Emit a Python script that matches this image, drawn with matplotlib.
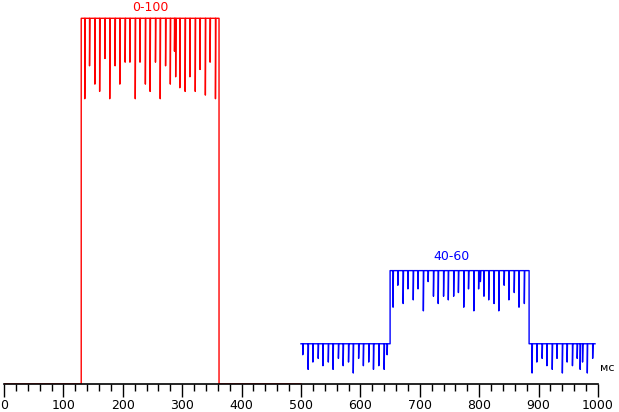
import numpy as np
import matplotlib.pyplot as plt

# red: 0-100 transition, values in % of full range
red_rise, red_fall, red_end = 130, 362, 500
red_level = 100
red_spike_t = [136, 144, 153, 161, 170, 178, 187, 195, 204, 212, 221, 229, 238, 246,
               255, 263, 272, 280, 287, 289, 296, 305, 313, 322, 330, 339, 347, 356]
red_spike_v = [78, 87, 82, 80, 89, 78, 87, 82, 88, 88, 78, 88, 82, 80,
               88, 78, 87, 82, 91, 84, 81, 80, 84, 80, 86, 79, 88, 78]

# blue: 40-60 transition
blue_start, blue_rise, blue_fall, blue_end = 500, 650, 884, 995
blue_low, blue_high = 11, 31
blue_low_t = [503, 512, 520, 529, 537, 546, 554, 563, 571, 580, 588, 597, 605, 614, 622, 631, 640, 645,
              889, 897, 906, 914, 923, 931, 940, 948, 957, 965, 970, 974, 982, 991]
blue_low_v = [8, 4, 6, 7, 5, 6, 4, 7, 5, 6, 3, 7, 5, 6, 4, 5, 4, 8,
              3, 6, 7, 5, 4, 7, 3, 6, 5, 7, 4, 6, 3, 7]
blue_high_t = [655, 663, 672, 680, 689, 697, 706, 714, 723, 731, 740, 748, 757, 765,
               774, 782, 791, 799, 802, 808, 816, 825, 833, 842, 850, 859, 867, 876]
blue_high_v = [21, 27, 22, 26, 23, 26, 20, 28, 24, 22, 24, 23, 24, 25,
               21, 26, 20, 26, 28, 24, 23, 22, 20, 27, 23, 25, 21, 22]


def with_spikes(segments, spike_t, spike_v):
    xs, ys = [], []
    for t0, t1, lvl in segments:
        xs += [t0]
        ys += [lvl]
        for t, v in zip(spike_t, spike_v):
            if t0 < t < t1:
                xs += [t, t, t + 0.6]
                ys += [lvl, v, lvl]
        xs += [t1]
        ys += [lvl]
    return xs, ys


rx, ry = with_spikes([(0, red_rise, 0), (red_rise, red_fall, red_level), (red_fall, red_end, 0)],
                     red_spike_t, red_spike_v)
bx, by = with_spikes([(blue_start, blue_rise, blue_low), (blue_rise, blue_fall, blue_high),
                      (blue_fall, blue_end, blue_low)],
                     blue_low_t + blue_high_t, blue_low_v + blue_high_v)

fig = plt.figure(figsize=(6.19, 4.12), dpi=100)
ax = fig.add_axes([4 / 619, 28 / 412, 594 / 619, 384 / 412])
ax.plot(rx, ry, color='red', lw=1)
ax.plot(bx, by, color='blue', lw=1)
ax.set_xlim(0, 1000)
ax.set_ylim(0, 105)
for s in ['top', 'left', 'right']:
    ax.spines[s].set_visible(False)
ax.spines['bottom'].set_linewidth(1.2)
ax.set_yticks([])
ax.set_xticks(np.arange(0, 1001, 100))
ax.set_xticks(np.arange(0, 1001, 20), minor=True)
ax.tick_params(axis='x', which='major', length=9, width=1, labelsize=9, pad=2)
ax.tick_params(axis='x', which='minor', length=5, width=1)
ax.text(246, 103, '0-100', color='red', fontsize=9, ha='center', va='center')
ax.text(754, 35, '40-60', color='blue', fontsize=9, ha='center', va='center')
ax.text(1003, 3, 'мс', fontsize=8, ha='left', va='bottom', clip_on=False)
fig.savefig('out.png', dpi=100)
